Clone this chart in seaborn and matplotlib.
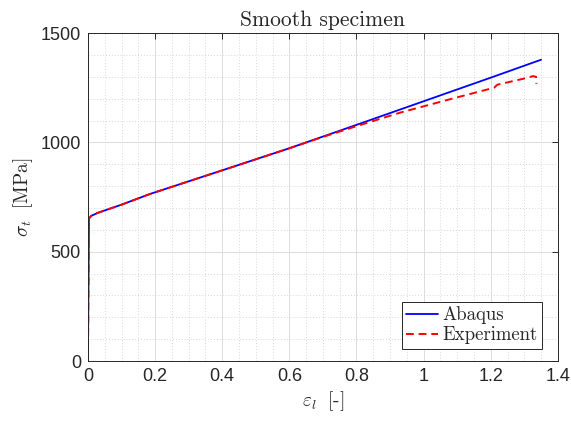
import matplotlib
matplotlib.use("Agg")
import matplotlib.pyplot as plt
import seaborn as sns
import pandas as pd
from matplotlib.ticker import MultipleLocator

abaqus_strain = [0.0, 0.003, 0.01, 0.03, 0.1, 0.185, 0.4, 0.6, 0.8, 1.0, 1.2, 1.35]
abaqus_stress = [0, 652, 664, 678, 715, 764, 872, 973, 1080, 1188, 1296, 1378]

exp_strain = [0.0, 0.003, 0.01, 0.03, 0.1, 0.185, 0.4, 0.6, 0.7, 0.8, 0.93, 1.078,
              1.2, 1.21, 1.22, 1.3, 1.326, 1.335, 1.336]
exp_stress = [0, 652, 664, 678, 715, 764, 872, 973, 1025, 1074, 1136, 1197,
              1246, 1250, 1264, 1292, 1303, 1300, 1268]

x_ticks = [0, 0.2, 0.4, 0.6, 0.8, 1.0, 1.2, 1.4]
x_tick_labels = ["0", "0.2", "0.4", "0.6", "0.8", "1", "1.2", "1.4"]
y_ticks = [0, 500, 1000, 1500]
y_tick_labels = ["0", "500", "1000", "1500"]

sns.set_theme(style="white")
plt.rcParams["mathtext.fontset"] = "cm"
plt.rcParams["font.family"] = ["Liberation Sans", "DejaVu Sans"]
plt.rcParams["axes.unicode_minus"] = False

fig = plt.figure(figsize=(5.71, 4.21), dpi=100)
ax = fig.add_axes([0.154, 0.1425, 0.823, 0.779])

df_a = pd.DataFrame({"x": abaqus_strain, "y": abaqus_stress})
df_e = pd.DataFrame({"x": exp_strain, "y": exp_stress})
sns.lineplot(data=df_a, x="x", y="y", ax=ax, color="#0000ff", lw=1.3,
             sort=False, estimator=None, label="Abaqus")
sns.lineplot(data=df_e, x="x", y="y", ax=ax, color="#ff0000", lw=1.4,
             sort=False, estimator=None, label="Experiment", dashes=False)
ax.lines[1].set_linestyle((0, (4, 2.5)))

ax.set_xticks(x_ticks, labels=x_tick_labels)
ax.set_yticks(y_ticks, labels=y_tick_labels)
ax.xaxis.set_minor_locator(MultipleLocator(0.05))
ax.yaxis.set_minor_locator(MultipleLocator(100))
ax.set_xlim(0, 1.4)
ax.set_ylim(0, 1500)

ax.grid(which="major", color="#dcdcdc", lw=0.7, ls="-")
ax.grid(which="minor", color="#d6d6d6", lw=0.7, ls=(0, (1, 2)))
ax.set_axisbelow(True)

for s in ax.spines.values():
    s.set_color("#262626")
    s.set_linewidth(0.7)
ax.tick_params(which="both", direction="in", top=True, right=True,
               colors="#262626", labelsize=13, width=0.7)
ax.tick_params(which="major", length=4, pad=5)
ax.tick_params(which="minor", length=0)

ax.set_xlabel(r"$\varepsilon_l\;$ [-]", fontsize=14, family="cmr10", color="#262626", labelpad=3)
ax.set_ylabel(r"$\sigma_t\;$ [MPa]", fontsize=14, family="cmr10", color="#262626", labelpad=4)
ax.set_title("Smooth specimen", fontsize=15.5, family="cmr10", pad=5)

leg = ax.legend(loc="lower right", bbox_to_anchor=(0.966, 0.037), prop={"family": "cmr10", "size": 13.5},
                fancybox=False, framealpha=1, edgecolor="#262626", borderpad=0.25,
                handlelength=1.7, labelspacing=0.1, handletextpad=0.2, borderaxespad=0)
leg.get_frame().set_linewidth(0.7)

fig.savefig("out.png", dpi=100)
